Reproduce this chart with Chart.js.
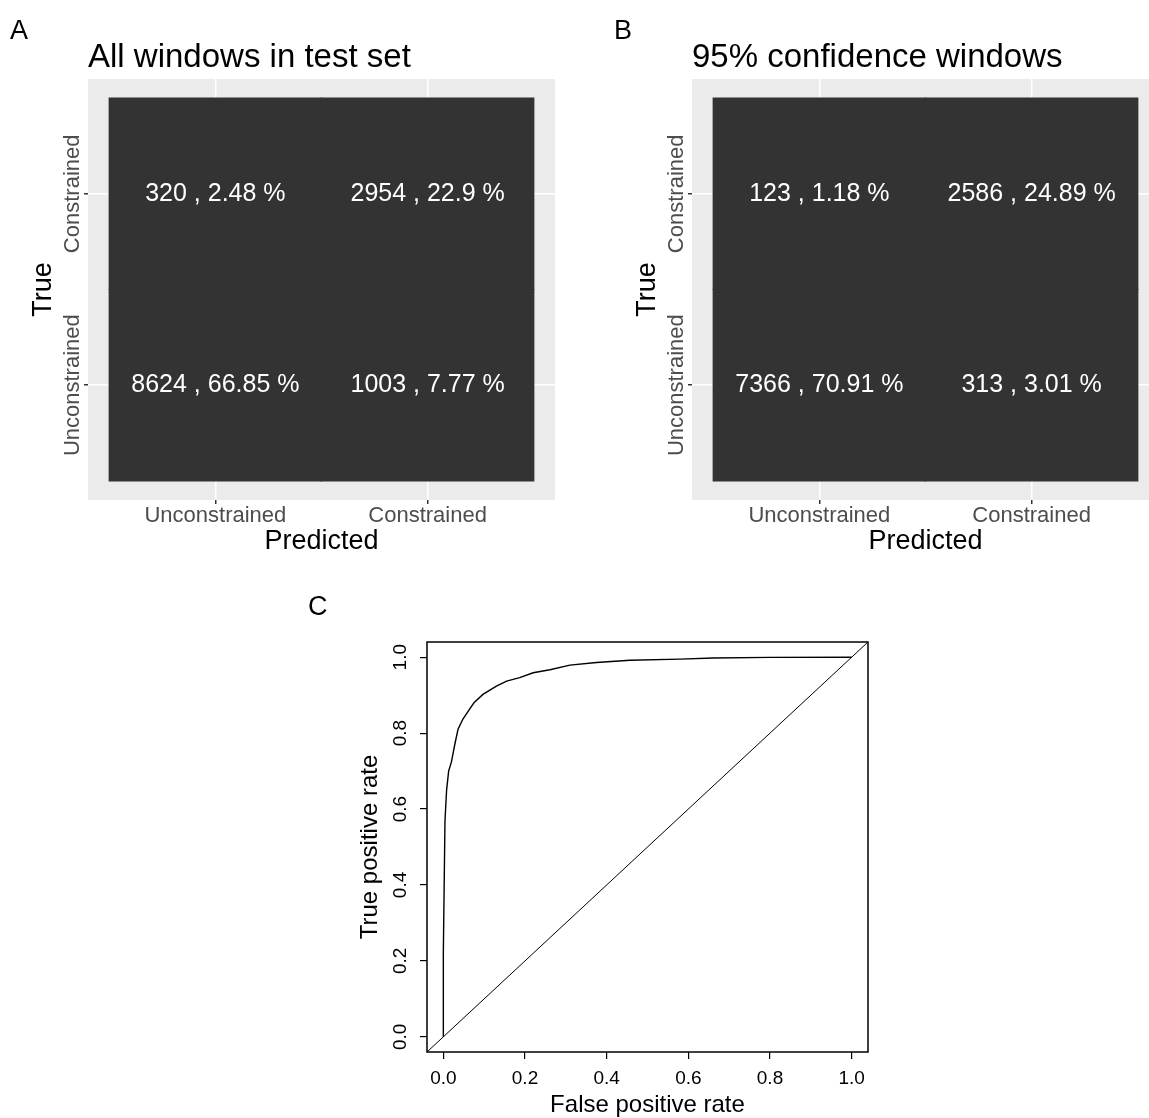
<!DOCTYPE html>
<html>
<head>
<meta charset="utf-8">
<script src="https://cdn.jsdelivr.net/npm/chart.js@4.4.0/dist/chart.umd.min.js"></script>
<style>
  html, body { margin: 0; padding: 0; background: #fff; overflow: hidden; }
  body { width: 1149px; height: 1118px; position: relative; }
  canvas { position: absolute; }
  #chart-a { left: 0; top: 0; }
  #chart-b { left: 604px; top: 0; }
  #chart-roc { left: 300px; top: 580px; }
</style>
</head>
<body>
<canvas id="chart-a" width="575" height="560"></canvas>
<canvas id="chart-b" width="575" height="560"></canvas>
<canvas id="chart-roc" width="590" height="538"></canvas>
<script>
const FONT = "'Liberation Sans', Arial, Helvetica, sans-serif";

// confusion matrices, rows = true class, columns = predicted class
const classLabels = ["Unconstrained", "Constrained"];
const allCounts = [[8624, 1003], [320, 2954]];
const allPercents = [[66.85, 7.77], [2.48, 22.9]];
const confCounts = [[7366, 313], [123, 2586]];
const confPercents = [[70.91, 3.01], [1.18, 24.89]];

// ROC curve
const rocFpr = [0, 0, 0.004, 0.008, 0.013, 0.02, 0.028, 0.036, 0.048, 0.061, 0.075, 0.097,
  0.13, 0.155, 0.187, 0.22, 0.261, 0.31, 0.375, 0.457, 0.579, 0.661, 0.8, 1.0];
const rocTpr = [0, 0.22, 0.568, 0.65, 0.7, 0.725, 0.77, 0.81, 0.837, 0.858, 0.88, 0.902,
  0.924, 0.937, 0.946, 0.959, 0.967, 0.979, 0.986, 0.992, 0.995, 0.998, 0.9995, 1.0];
const rocTicks = [0, 0.2, 0.4, 0.6, 0.8, 1.0];
const rocRange = [-0.04, 1.04];

Chart.defaults.font.family = FONT;
Chart.defaults.animation = false;

const panelBg = {
  id: "panelBg",
  beforeDraw(chart, args, opts) {
    if (!opts.color) return;
    const { ctx, chartArea: a } = chart;
    ctx.save();
    ctx.fillStyle = opts.color;
    ctx.fillRect(a.left, a.top, a.right - a.left, a.bottom - a.top);
    ctx.restore();
  },
};

const panelText = {
  id: "panelText",
  afterDraw(chart, args, opts) {
    const { ctx, chartArea: a } = chart;
    ctx.save();
    ctx.fillStyle = "#000";
    ctx.textBaseline = "alphabetic";
    ctx.textAlign = "left";
    if (opts.letter) {
      ctx.font = "27px " + FONT;
      ctx.fillText(opts.letter, opts.letterX, opts.letterY);
    }
    if (opts.title) {
      ctx.font = "33px " + FONT;
      ctx.fillText(opts.title, a.left, opts.titleY);
    }
    // y tick labels, rotated like the axis
    if (opts.yLabels) {
      const y = chart.scales.y;
      ctx.font = opts.yFont + "px " + FONT;
      ctx.fillStyle = opts.yColor;
      ctx.textAlign = "center";
      ctx.textBaseline = "middle";
      y.ticks.forEach((t) => {
        ctx.save();
        ctx.translate(opts.yLabelX, y.getPixelForValue(t.value));
        ctx.rotate(-Math.PI / 2);
        ctx.fillText(opts.yLabels(t.value), 0, 0);
        ctx.restore();
      });
    }
    if (opts.box) {
      ctx.strokeStyle = "#000";
      ctx.lineWidth = 1.5;
      ctx.strokeRect(a.left, a.top, a.right - a.left, a.bottom - a.top);
    }
    ctx.restore();
  },
};

const cellLabels = {
  id: "cellLabels",
  afterDatasetsDraw(chart, args, opts) {
    if (!opts.counts) return;
    const { ctx, scales } = chart;
    ctx.save();
    ctx.fillStyle = "#fff";
    ctx.font = "25px " + FONT;
    ctx.textAlign = "center";
    ctx.textBaseline = "middle";
    opts.counts.forEach((row, r) => {
      row.forEach((n, c) => {
        const px = scales.x.getPixelForValue(c + 1);
        const py = scales.y.getPixelForValue(r + 1);
        ctx.fillText(n + " , " + opts.percents[r][c] + " %", px, py);
      });
    });
    ctx.restore();
  },
};

function makeMatrix(id, letter, title, counts, percents) {
  const datasets = counts.map((row, r) => ({
    label: classLabels[r],
    data: row.map((n, c) => ({ x: c + 1, y: [r + 0.5, r + 1.5] })),
    backgroundColor: "#333333",
    borderWidth: 0,
    inflateAmount: 0.6,
    barPercentage: 1,
    categoryPercentage: 1,
    grouped: false,
  }));
  const catTicks = (scale) => {
    scale.ticks = classLabels.map((l, i) => ({ value: i + 1 }));
  };
  return new Chart(document.getElementById(id), {
    type: "bar",
    data: { datasets },
    plugins: [panelBg, panelText, cellLabels],
    options: {
      responsive: false,
      layout: { padding: { top: 79, right: 20, left: 0, bottom: 0 } },
      scales: {
        x: {
          type: "linear",
          min: 0.4,
          max: 2.6,
          offset: false,
          afterBuildTicks: catTicks,
          afterFit: (s) => { s.height = 60; },
          grid: { offset: false, color: "#ffffff", lineWidth: 1.5, tickColor: "#333333", tickLength: 4 },
          border: { display: false },
          ticks: {
            color: "#4D4D4D",
            font: { size: 22, lineHeight: 1 },
            padding: 1,
            maxRotation: 0,
            callback: (v) => classLabels[v - 1],
          },
          title: {
            display: true,
            text: "Predicted",
            color: "#000",
            font: { size: 27, lineHeight: 1 },
            padding: { top: 0, bottom: 5 },
          },
        },
        y: {
          type: "linear",
          min: 0.4,
          max: 2.6,
          afterBuildTicks: catTicks,
          afterFit: (s) => { s.width = 88; },
          grid: { color: "#ffffff", lineWidth: 1.5, tickColor: "#333333", tickLength: 4 },
          border: { display: false },
          ticks: { display: false },
          title: {
            display: true,
            text: "True",
            color: "#000",
            font: { size: 27, lineHeight: 1 },
            padding: { top: 30, bottom: 0 },
          },
        },
      },
      plugins: {
        legend: { display: false },
        tooltip: { enabled: false },
        panelBg: { color: "#EBEBEB" },
        cellLabels: { counts, percents },
        panelText: {
          letter,
          letterX: 10,
          letterY: 39,
          title,
          titleY: 67,
          yLabels: (v) => classLabels[v - 1],
          yLabelX: 73,
          yFont: 22,
          yColor: "#4D4D4D",
        },
      },
    },
  });
}

makeMatrix("chart-a", "A", "All windows in test set", allCounts, allPercents);
makeMatrix("chart-b", "B", "95% confidence windows", confCounts, confPercents);

const rocTickFn = (scale) => {
  scale.ticks = rocTicks.map((v) => ({ value: v }));
};

new Chart(document.getElementById("chart-roc"), {
  type: "scatter",
  data: {
    datasets: [
      {
        label: "ROC",
        data: rocFpr.map((x, i) => ({ x, y: rocTpr[i] })),
        showLine: true,
        borderColor: "#000",
        borderWidth: 1.4,
        pointRadius: 0,
      },
      {
        label: "chance",
        data: rocRange.map((v) => ({ x: v, y: v })),
        showLine: true,
        borderColor: "#000",
        borderWidth: 1,
        pointRadius: 0,
      },
    ],
  },
  plugins: [panelText],
  options: {
    responsive: false,
    layout: { padding: { top: 62, right: 22, left: 0, bottom: 0 } },
    scales: {
      x: {
        type: "linear",
        min: rocRange[0],
        max: rocRange[1],
        afterBuildTicks: rocTickFn,
        afterFit: (s) => { s.height = 66; },
        grid: { drawOnChartArea: false, tickColor: "#000", tickLength: 7, lineWidth: 1.2 },
        border: { display: false },
        ticks: {
          color: "#000",
          font: { size: 19, lineHeight: 1 },
          padding: 10,
          maxRotation: 0,
          callback: (v) => v.toFixed(1),
        },
        title: {
          display: true,
          text: "False positive rate",
          color: "#000",
          font: { size: 24, lineHeight: 1 },
          padding: { top: 0, bottom: 1 },
        },
      },
      y: {
        type: "linear",
        min: rocRange[0],
        max: rocRange[1],
        afterBuildTicks: rocTickFn,
        afterFit: (s) => { s.width = 127; },
        grid: { drawOnChartArea: false, tickColor: "#000", tickLength: 7, lineWidth: 1.2 },
        border: { display: false },
        ticks: { display: false },
        title: {
          display: true,
          text: "True positive rate",
          color: "#000",
          font: { size: 24, lineHeight: 1 },
          padding: { top: 58, bottom: 0 },
        },
      },
    },
    plugins: {
      legend: { display: false },
      tooltip: { enabled: false },
      panelText: {
        letter: "C",
        letterX: 8,
        letterY: 35,
        yLabels: (v) => v.toFixed(1),
        yLabelX: 101,
        yFont: 19,
        yColor: "#000",
        box: true,
      },
    },
  },
});
</script>
</body>
</html>
